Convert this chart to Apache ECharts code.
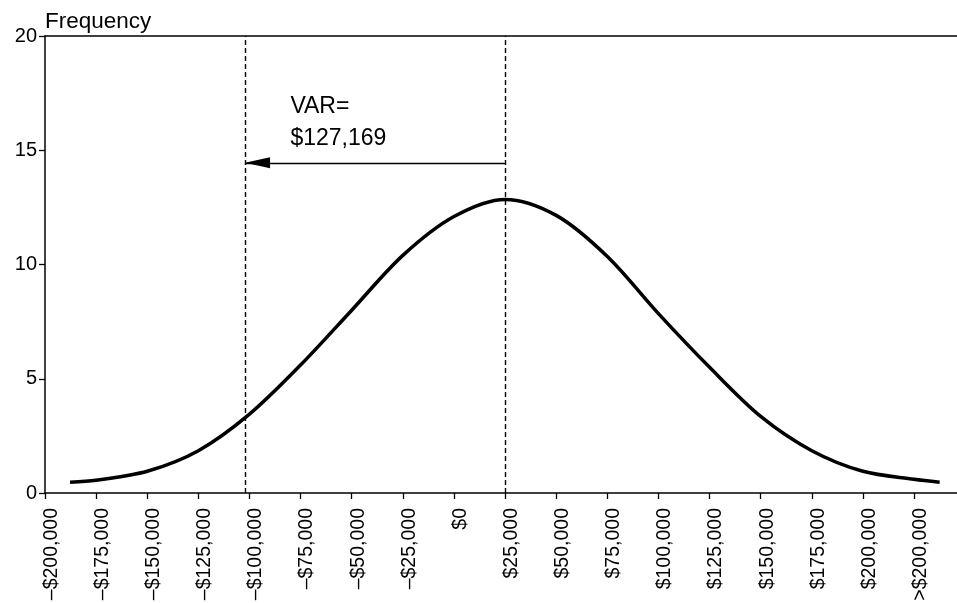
<!DOCTYPE html>
<html><head><meta charset="utf-8">
<script src="https://cdn.jsdelivr.net/npm/echarts@6/dist/echarts.min.js"></script>
<style>html,body{margin:0;padding:0;background:#fff}#c{width:957px;height:603px}</style>
</head><body><div id="c"></div>
<script>
// tick positions and labels on the x axis (dollar values)
const tickValues = [-200000,-175000,-150000,-125000,-100000,-75000,-50000,-25000,0,25000,50000,75000,100000,125000,150000,175000,200000,225000];
const tickLabels = ['\u2013$200,000','\u2013$175,000','\u2013$150,000','\u2013$125,000','\u2013$100,000','\u2013$75,000','\u2013$50,000','\u2013$25,000','$0','$25,000','$50,000','$75,000','$100,000','$125,000','$150,000','$175,000','$200,000','>$200,000'];
// frequency curve
const curveX = [-187750,-175000,-150000,-125000,-100000,-75000,-50000,-25000,0,25000,50000,75000,100000,125000,150000,175000,200000,225000,237500];
const curveY = [0.47,0.56,0.95,1.85,3.45,5.6,8.0,10.4,12.1,12.85,12.15,10.35,7.85,5.5,3.35,1.85,0.95,0.6,0.47];
// VaR markers
const varLineX = [-102169, 25000];
const arrowY = [14.45];
const annotText = ['VAR=', '$127,169'];
const annotX = [-80000, -80000];
const annotY = [16.9, 15.5];
const yTicks = [0, 5, 10, 15, 20];

const FONT = 'Liberation Sans, Arial, Helvetica, sans-serif';
const chart = echarts.init(document.getElementById('c'), null, {renderer: 'canvas'});
const axisLine = {show: true, onZero: false, lineStyle: {color: '#000', width: 1.5}};
chart.setOption({
  backgroundColor: '#fff',
  animation: false,
  title: {text: 'Frequency', left: 45, top: 10, padding: 0,
    textStyle: {fontFamily: FONT, fontSize: 22.5, fontWeight: 'normal', color: '#000'}},
  grid: {left: 45, right: 0, top: 36, bottom: 110, containLabel: false, outerBoundsMode: 'none'},
  xAxis: [{
    type: 'value', min: tickValues[0], max: 246000, interval: 25000, position: 'bottom',
    axisLine: axisLine,
    axisTick: {show: true, customValues: tickValues, length: 6, inside: false, lineStyle: {color: '#000', width: 1.3}},
    axisLabel: {show: true, customValues: tickValues, rotate: 90, margin: 15,
      verticalAlign: 'top', lineHeight: 13,
      formatter: v => { const i = tickValues.indexOf(v); return i >= 0 ? tickLabels[i] : ''; },
      fontFamily: FONT, fontSize: 19.5, color: '#000'},
    splitLine: {show: false}
  }, {
    type: 'value', min: tickValues[0], max: 246000, position: 'top',
    axisLine: axisLine, axisTick: {show: false}, axisLabel: {show: false}, splitLine: {show: false}
  }],
  yAxis: {
    type: 'value', min: yTicks[0], max: yTicks[yTicks.length - 1], interval: 5,
    axisLine: axisLine,
    axisTick: {show: true, length: 6, inside: false, lineStyle: {color: '#000', width: 1.3}},
    axisLabel: {fontFamily: FONT, fontSize: 20, color: '#000', margin: 8},
    splitLine: {show: false}
  },
  series: [{
    type: 'line', xAxisIndex: 0, yAxisIndex: 0,
    data: curveX.map((x, i) => [x, curveY[i]]),
    smooth: 0.32, symbol: 'none',
    lineStyle: {color: '#000', width: 3.5},
    markLine: {
      silent: true, animation: false,
      symbol: ['none', 'none'], symbolSize: [11, 25],
      label: {show: false},
      lineStyle: {color: '#000', width: 1.4, type: [5, 3]},
      data: varLineX.map(v => ({xAxis: v})).concat([[
        {coord: [varLineX[1], arrowY[0]], symbol: 'none', lineStyle: {type: 'solid', width: 1.3}},
        {coord: [varLineX[0], arrowY[0]], symbol: 'triangle', symbolOffset: [0, '50%']}
      ]])
    },
    markPoint: {
      silent: true, symbol: 'rect', symbolSize: 0,
      label: {show: true, position: 'right', distance: 0, align: 'left',
        formatter: p => p.name, fontFamily: FONT, fontSize: 23, color: '#000'},
      data: annotText.map((t, i) => ({name: t, coord: [annotX[i], annotY[i]]}))
    }
  }]
});
</script></body></html>
